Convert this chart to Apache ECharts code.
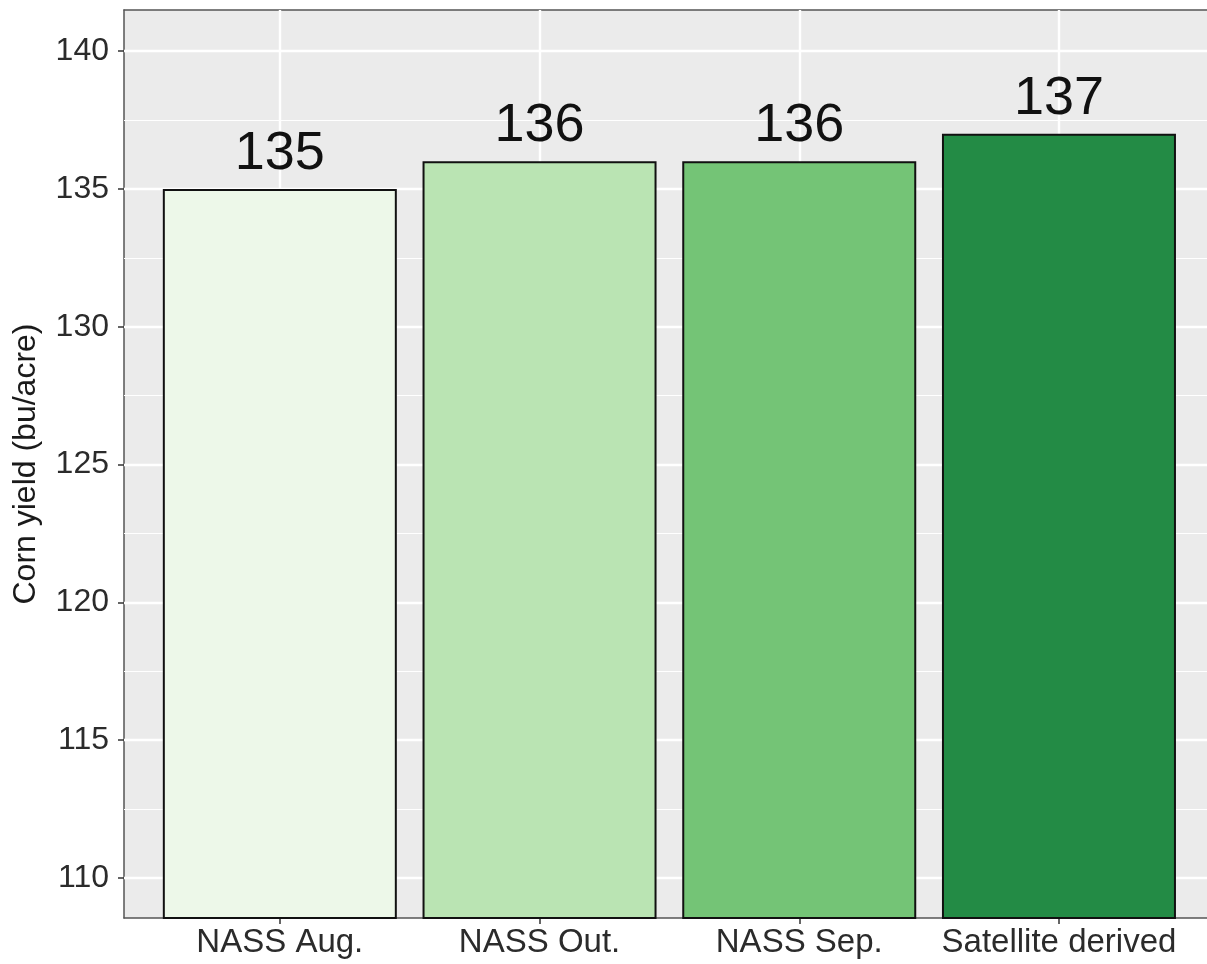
<!DOCTYPE html>
<html>
<head>
<meta charset="utf-8">
<script src="https://cdn.jsdelivr.net/npm/echarts@6/dist/echarts.min.js"></script>
<style>
  html, body { margin: 0; padding: 0; background: #fff; overflow: hidden; }
  #chart { width: 1207px; height: 964px; }
</style>
</head>
<body>
<div id="chart"></div>
<script>
// data
var categorias = ['NASS Aug.', 'NASS Out.', 'NASS Sep.', 'Satellite derived'];
var valores = [135, 136, 136, 137];
var cores = ['#edf8e9', '#bae4b3', '#74c476', '#238b45'];
var ticksY = [110, 115, 120, 125, 130, 135, 140];
var minorY = [112.5, 117.5, 122.5, 127.5, 132.5, 137.5];
var posicoes = [1, 2, 3, 4];

var fonte = '"Liberation Sans", Arial, Helvetica, sans-serif';

var dom = document.getElementById('chart');
var myChart = echarts.init(dom, null, { renderer: 'canvas' });

var dadosBarras = valores.map(function (v, i) {
    return {
        value: [posicoes[i], v],
        itemStyle: { color: cores[i] }
    };
});

// grid lines like ggplot (drawn under the bars)
var linhas = [];
minorY.forEach(function (v) {
    linhas.push({ yAxis: v, lineStyle: { color: '#ffffff', width: 1.2, type: 'solid' } });
});
ticksY.forEach(function (v) {
    linhas.push({ yAxis: v, lineStyle: { color: '#ffffff', width: 2.4, type: 'solid' } });
});
posicoes.forEach(function (p) {
    linhas.push({ xAxis: p, lineStyle: { color: '#ffffff', width: 2.4, type: 'solid' } });
});

var bordaPainel = { color: '#555555', width: 1.5 };

var option = {
    animation: false,
    backgroundColor: '#ffffff',
    grid: {
        left: 124,
        top: 10,
        right: 0,
        bottom: 46,
        show: true,
        backgroundColor: '#ebebeb',
        borderWidth: 0
    },
    xAxis: [
        {
            type: 'value',
            min: 0.4,
            max: 4.57,
            axisLine: { show: true, onZero: false, lineStyle: bordaPainel },
            splitLine: { show: false },
            axisTick: {
                show: true,
                customValues: posicoes,
                length: 6,
                lineStyle: { color: '#333333', width: 1.5 }
            },
            axisLabel: {
                customValues: posicoes,
                formatter: function (v) { return categorias[Math.round(v) - 1]; },
                color: '#2b2b2b',
                fontFamily: fonte,
                fontSize: 33,
                margin: 8
            }
        },
        {
            // top edge of the panel
            type: 'value',
            position: 'top',
            min: 0.4,
            max: 4.57,
            axisLine: { show: true, onZero: false, lineStyle: bordaPainel },
            axisTick: { show: false },
            axisLabel: { show: false },
            splitLine: { show: false }
        }
    ],
    yAxis: {
        type: 'value',
        min: 108.55,
        max: 141.49,
        name: 'Corn yield (bu/acre)',
        nameLocation: 'middle',
        nameRotate: 90,
        nameGap: 82,
        nameTextStyle: { color: '#1a1a1a', fontFamily: fonte, fontSize: 32 },
        axisLine: { show: true, onZero: false, lineStyle: bordaPainel },
        splitLine: { show: false },
        axisTick: {
            show: true,
            customValues: ticksY,
            length: 6,
            lineStyle: { color: '#333333', width: 1.5 }
        },
        axisLabel: {
            customValues: ticksY,
            color: '#2b2b2b',
            fontFamily: fonte,
            fontSize: 32,
            margin: 15
        }
    },
    series: [
        {
            type: 'scatter',
            data: [],
            z: 1,
            silent: true,
            markLine: {
                z: 1,
                silent: true,
                symbol: ['none', 'none'],
                label: { show: false },
                data: linhas
            }
        },
        {
            type: 'bar',
            z: 3,
            data: dadosBarras,
            barWidth: 234,
            itemStyle: { borderColor: '#111111', borderWidth: 2 },
            label: {
                show: true,
                position: 'top',
                distance: 8,
                color: '#111111',
                fontFamily: fonte,
                fontSize: 54,
                formatter: function (p) { return p.value[1]; }
            }
        }
    ]
};

myChart.setOption(option);
window.addEventListener('resize', myChart.resize);
</script>
</body>
</html>
